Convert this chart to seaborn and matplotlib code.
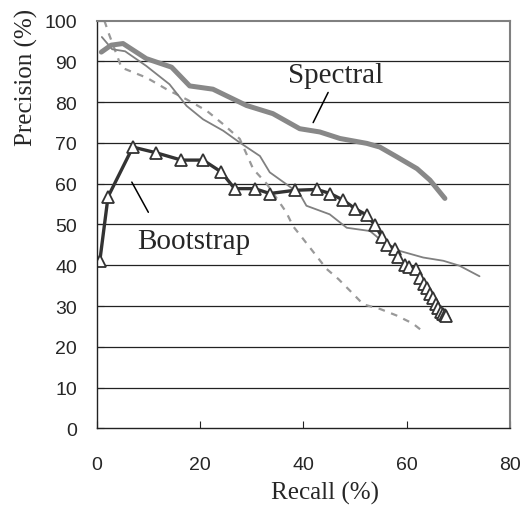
import matplotlib
matplotlib.use("Agg")
import matplotlib.pyplot as plt
import seaborn as sns

# Spectral (thick gray)
spectral_recall = [0.9, 2.8, 5.1, 9.6, 14.5, 18.0, 22.5, 29.0, 34.1, 39.3, 43.2, 47.1,
                   52.3, 54.8, 58.1, 62.0, 64.5, 67.4]
spectral_prec = [92.3, 94.0, 94.4, 90.7, 88.6, 84.0, 83.2, 79.2, 77.2, 73.5, 72.7, 71.1,
                 69.9, 69.0, 66.6, 63.7, 60.9, 56.4]

# Bootstrap (dark, open triangles)
boot_recall = [0.6, 2.2, 7.0, 11.5, 16.4, 20.6, 24.1, 26.7, 30.6, 33.5, 38.4, 42.6, 45.2,
               47.7, 50.0, 52.3, 53.9, 55.2, 56.1, 57.7, 58.4, 59.7, 60.5, 61.9, 62.6,
               63.3, 63.9, 64.5, 65.1, 65.6, 66.1, 66.6, 67.0, 67.4, 67.7]
boot_prec = [41.0, 56.8, 69.0, 67.6, 65.8, 65.8, 62.9, 58.8, 58.8, 57.6, 58.4, 58.6, 57.6,
             56.0, 53.9, 52.3, 49.8, 47.0, 44.9, 44.1, 42.1, 40.0, 39.6, 39.2, 36.8,
             35.5, 34.3, 33.0, 31.9, 30.6, 29.4, 28.6, 28.0, 27.8, 27.6]

# thin solid gray
solid_recall = [1.0, 3.0, 5.5, 9.6, 14.1, 17.4, 20.6, 24.5, 27.7, 31.6, 33.5, 36.7, 39.3,
                40.6, 45.1, 48.4, 52.9, 54.8, 58.7, 63.2, 67.1, 70.2, 74.1]
solid_prec = [96.0, 93.0, 92.5, 88.9, 84.4, 79.1, 75.8, 73.0, 70.1, 66.8, 62.8, 59.9, 57.5,
              54.6, 52.5, 49.2, 48.4, 46.4, 43.5, 41.9, 41.1, 39.9, 37.3]

# thin dashed gray
dash_recall = [1.5, 2.3, 4.8, 9.7, 13.5, 17.4, 21.3, 24.5, 27.7, 30.3, 32.9, 36.7, 38.0,
               40.0, 44.5, 46.8, 49.7, 51.6, 54.8, 58.0, 61.2, 63.2]
dash_prec = [100.0, 97.0, 88.5, 86.0, 83.2, 80.7, 77.9, 74.6, 71.0, 63.6, 60.0, 53.0, 49.6,
             46.4, 39.1, 36.6, 32.9, 30.4, 29.3, 27.7, 25.7, 23.7]

sns.set_style("ticks")
plt.rcParams['font.family'] = ['Liberation Sans', 'DejaVu Sans']
serif = ['Liberation Serif', 'DejaVu Serif']

fig = plt.figure(figsize=(5.22, 5.06), dpi=100)
ax = fig.add_axes([0.1852, 0.1516, 0.7918, 0.8055])

# horizontal gridlines
for yv in range(10, 100, 10):
    ax.axhline(yv, color='#222222', lw=0.9, zorder=0)

sns.lineplot(x=dash_recall, y=dash_prec, ax=ax, sort=False, color='#999999', lw=1.6,
             linestyle=(0, (3, 3)))
sns.lineplot(x=solid_recall, y=solid_prec, ax=ax, sort=False, color='#808080', lw=1.3)
sns.lineplot(x=spectral_recall, y=spectral_prec, ax=ax, sort=False, color='#888888',
             lw=3.6, solid_capstyle='round')
sns.lineplot(x=boot_recall, y=boot_prec, ax=ax, sort=False, color='#333333', lw=2.4,
             marker='^', markersize=8, markerfacecolor='white', markeredgecolor='#333333',
             markeredgewidth=1.3)

# annotations with leader lines
ax.text(46.3, 86.8, 'Spectral', family=serif, fontsize=21, ha='center', va='center')
ax.plot([44.8, 41.9], [82.4, 75.0], color='black', lw=1.1)
ax.text(18.8, 46.0, 'Bootstrap', family=serif, fontsize=21, ha='center', va='center')
ax.plot([6.8, 10.0], [60.4, 53.0], color='black', lw=1.1)

ax.set_xlim(0, 80)
ax.set_ylim(0, 100)
ax.set_xticks([0, 20, 40, 60, 80])
ax.set_yticks(range(0, 101, 10))
ax.tick_params(direction='in', labelsize=14, length=5, color='#222222')
ax.tick_params(axis='x', pad=20)
ax.tick_params(axis='y', pad=14)
ax.set_xlabel('Recall (%)', family=serif, fontsize=18)
ax.set_ylabel('Precision (%)', family=serif, fontsize=18)
ax.xaxis.set_label_coords(0.552, -0.128)
ax.yaxis.set_label_coords(-0.143, 0.864)

for s in ['left', 'bottom']:
    ax.spines[s].set_color('#222222')
    ax.spines[s].set_linewidth(1.0)
for s in ['top', 'right']:
    ax.spines[s].set_visible(True)
    ax.spines[s].set_color('#808080')
    ax.spines[s].set_linewidth(1.5)

fig.savefig('out.png', dpi=100)
